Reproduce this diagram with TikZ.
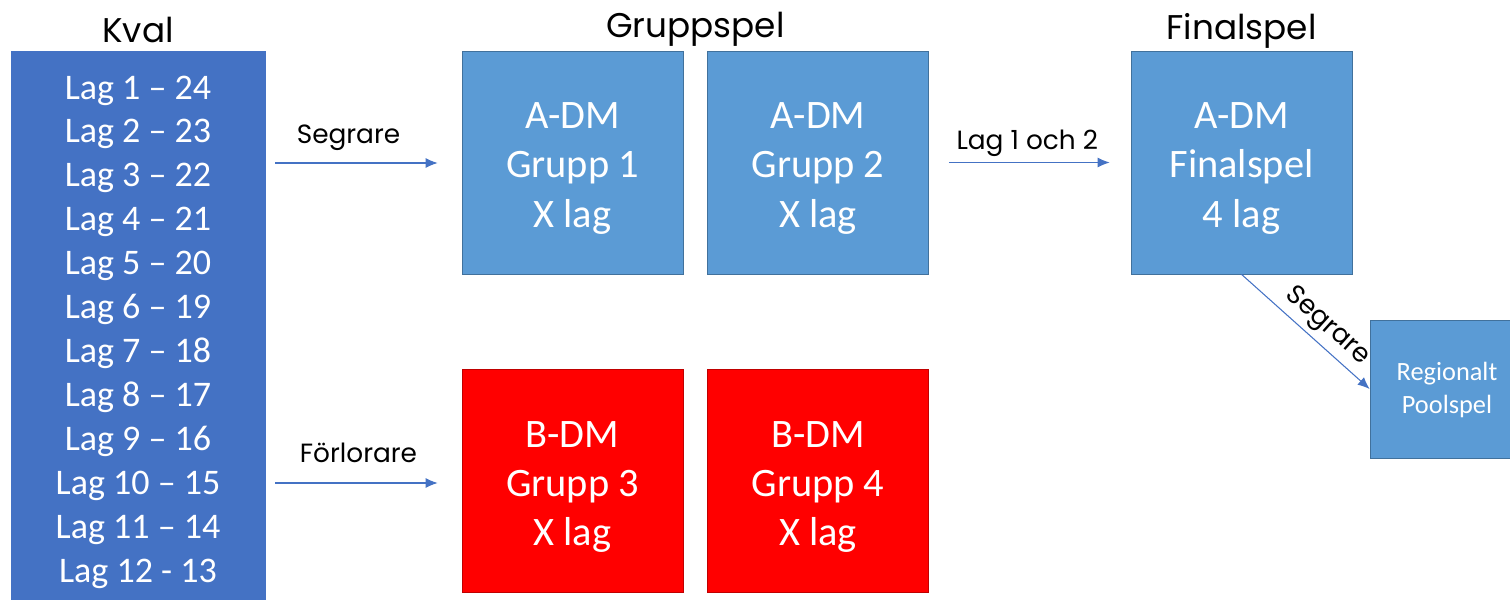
\documentclass[tikz,border=0pt]{standalone}
\usepackage{fontspec}
\setmainfont{Carlito}
\newfontfamily\gothic{Poppins}
\usetikzlibrary{arrows.meta, positioning, calc}
\definecolor{kvalblue}{HTML}{4472C4}
\definecolor{boxblue}{HTML}{5B9BD5}
\definecolor{edgeblue}{HTML}{41719C}
\definecolor{boxred}{HTML}{FF0000}
\definecolor{edgered}{HTML}{C00000}

\begin{document}
\begin{tikzpicture}[x=0.02cm, y=-0.02cm,
 lagbox/.style args = {#1/#2}{%
      rectangle, draw=edgeblue, line width=0.4pt, fill=boxblue,
      inner sep=0pt, minimum width=#1*0.02cm, minimum height=#2*0.02cm},
 redbox/.style = {lagbox=221/223, fill=boxred, draw=edgered},
 boxtext/.style = {text=white, align=center, inner sep=0pt,
      font=\fontsize{23}{28}\selectfont},
 rubrik/.style = {font=\gothic\fontsize{19.5}{22}\selectfont, inner sep=0pt, anchor=base},
 pil/.style = {draw=kvalblue, line width=0.6pt, -{Latex[length=2.4mm, width=2mm]}},
 pilnamn/.style = {font=\gothic\fontsize{15}{18}\selectfont, text=black, inner sep=0pt}
                    ]
\useasboundingbox (0,0) rectangle (1510,599);
% kval
\node(kval) [lagbox=254/548, fill=kvalblue, draw=kvalblue] at (138,325) {};
\node(kvaltxt) [boxtext, font=\fontsize{20.5}{25}\selectfont] at ($(kval)+(0,7)$)
  {Lag 1 -- 24\\ Lag 2 -- 23\\ Lag 3 -- 22\\ Lag 4 -- 21\\
   Lag 5 -- 20\\ Lag 6 -- 19\\ Lag 7 -- 18\\ Lag 8 -- 17\\
   Lag 9 -- 16\\ Lag 10 -- 15\\ Lag 11 -- 14\\ Lag 12 - 13};
% gruppspel
\node(grp1) [lagbox=221/223] at (572.5,162.5) {};
\node(grp2) [lagbox=221/223] at (818,162.5) {};
\node(grp3) [redbox] at (572.5,481) {};
\node(grp4) [redbox] at (818,481) {};
\node(grp1txt) [boxtext] at ($(grp1)+(0,6)$) {A-DM\\ Grupp 1\\ X lag};
\node(grp2txt) [boxtext] at ($(grp2)+(0,6)$) {A-DM\\ Grupp 2\\ X lag};
\node(grp3txt) [boxtext] at ($(grp3)+(0,6)$) {B-DM\\ Grupp 3\\ X lag};
\node(grp4txt) [boxtext] at ($(grp4)+(0,6)$) {B-DM\\ Grupp 4\\ X lag};
% finalspel
\node(final) [lagbox=221/223] at (1241.5,162.5) {};
\node(finaltxt) [boxtext] at ($(final)+(0,6)$) {A-DM\\ Finalspel\\ 4 lag};
\node(region) [lagbox=140/138] at (1440,389) {};
\node(regiontxt) [boxtext, font=\fontsize{15}{19}\selectfont] at ($(region)+(7,1)$)
  {Regionalt\\ Poolspel};
%
\node(tkval) [rubrik] at ($(kval.north)+(0,-8)$) {Kval};
\node(tgrupp) [rubrik] at ($(grp1.north)!0.5!(grp2.north)+(0,-13)$) {Gruppspel};
\node(tfinal) [rubrik] at ($(final.north)+(0,-11)$) {Finalspel};
%
\path[pil, shorten <=0.2cm, shorten >=0.48cm] (kval.east |- 0,163) -- (grp1.west |- 0,163)
      node[pilnamn, midway, anchor=base, yshift=0.4cm, xshift=-0.3cm] {Segrare};
\path[pil, shorten <=0.2cm, shorten >=0.48cm] (kval.east |- 0,483) -- (grp3.west |- 0,483)
      node[pilnamn, midway, anchor=base, yshift=0.42cm, xshift=-0.1cm] {Förlorare};
\path[pil, shorten <=0.4cm, shorten >=0.42cm] (grp2.east) -- (final.west)
      node[pilnamn, midway, anchor=base, yshift=0.26cm, xshift=-0.05cm] {Lag 1 och 2};
\path[pil] (final.south) -- (region.west)
      node[pilnamn, midway, sloped, above=0.1cm, xshift=0.25cm] {Segrare};
\end{tikzpicture}
\end{document}
